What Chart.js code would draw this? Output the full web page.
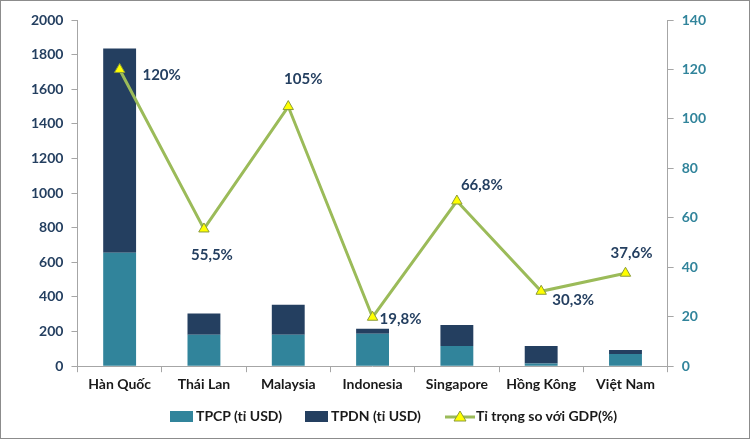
<!DOCTYPE html>
<html>
<head>
<meta charset="utf-8">
<script src="https://cdn.jsdelivr.net/npm/chart.js@4"></script>
<style>
  html, body { margin: 0; padding: 0; background: #fff; }
  .frame { position: relative; width: 748px; height: 437px; border: 1px solid #8c8c8c; background: #fff; }
  #chart { position: absolute; left: 0; top: 0; }
  .legend { position: absolute; top: 406px; left: 0; width: 748px; font: bold 14px Lato, "Open Sans", sans-serif; color: #1a1a1a; }
  .legend span.item { position: absolute; top: 0; white-space: nowrap; }
  .legend .box { display: inline-block; width: 23px; height: 11px; margin-right: 3px; vertical-align: -1px; }
</style>
</head>
<body>
<div class="frame">
  <canvas id="chart" width="748" height="437"></canvas>
  <div class="legend">
    <span class="item" style="left:169px"><span class="box" style="background:#31849B"></span>TPCP (tỉ USD)</span>
    <span class="item" style="left:304px"><span class="box" style="background:#243F60"></span>TPDN (tỉ USD)</span>
    <span class="item" style="left:444px"><canvas id="lineKey" width="30" height="14" style="vertical-align:-2px;margin-right:1px"></canvas>Tỉ trọng so với GDP(%)</span>
  </div>
</div>
<script>
const countries = ['Hàn Quốc', 'Thái Lan', 'Malaysia', 'Indonesia', 'Singapore', 'Hồng Kông', 'Việt Nam'];
const tpcp = [655, 181, 181, 187, 116, 16, 71];
const tpdn = [1181, 124, 174, 29, 122, 100, 22];
const gdpShare = [120, 55.5, 105, 19.8, 66.8, 30.3, 37.6];

// where each % label sits relative to its point
const labelOffsets = [[42, 6], [8, 26], [15, -27], [28, 2], [25, -16], [32, 9], [6, -20]];

const font = { family: 'Lato, "Open Sans", sans-serif', size: 14, weight: 'bold' };

// line key for legend
const key = document.querySelector('#lineKey').getContext('2d');
key.strokeStyle = '#9BBB59';
key.lineWidth = 3;
key.beginPath(); key.moveTo(0, 8); key.lineTo(30, 8); key.stroke();
key.fillStyle = '#FFFF00';
key.strokeStyle = '#8a9a3a';
key.lineWidth = 1;
key.beginPath(); key.moveTo(15, 2); key.lineTo(21, 12); key.lineTo(9, 12); key.closePath(); key.fill(); key.stroke();

const pctLabels = {
    id: 'pctLabels',
    afterDatasetsDraw(chart) {
        const meta = chart.getDatasetMeta(2);
        const ctx = chart.ctx;
        ctx.save();
        ctx.font = 'bold 15px Lato, "Open Sans", sans-serif';
        ctx.fillStyle = '#243F60';
        ctx.textAlign = 'center';
        ctx.textBaseline = 'middle';
        meta.data.forEach((pt, i) => {
            const txt = String(gdpShare[i]).replace('.', ',') + '%';
            ctx.fillText(txt, pt.x + labelOffsets[i][0], pt.y + labelOffsets[i][1]);
        });
        ctx.restore();
    }
};

const chart = document.querySelector('#chart').getContext('2d');

new Chart(chart, {
    type: 'bar',
    data: {
        labels: countries,
        datasets: [
            {
                label: 'TPCP (tỉ USD)',
                data: tpcp,
                backgroundColor: '#31849B',
                barPercentage: 0.39,
                categoryPercentage: 1,
                order: 2
            },
            {
                label: 'TPDN (tỉ USD)',
                data: tpdn,
                backgroundColor: '#243F60',
                barPercentage: 0.39,
                categoryPercentage: 1,
                order: 2
            },
            {
                type: 'line',
                label: 'Tỉ trọng so với GDP(%)',
                data: gdpShare,
                yAxisID: 'y1',
                borderColor: '#9BBB59',
                borderWidth: 3,
                pointStyle: 'triangle',
                pointRadius: 6,
                pointBackgroundColor: '#FFFF00',
                pointBorderColor: '#8a9a3a',
                pointBorderWidth: 1,
                tension: 0,
                order: 1
            }
        ]
    },
    options: {
        responsive: false,
        animation: false,
        layout: { padding: { left: 22, right: 35, top: 19, bottom: 41 } },
        plugins: {
            legend: { display: false },
            tooltip: { enabled: false }
        },
        scales: {
            x: {
                stacked: true,
                grid: { drawOnChartArea: false, tickLength: 6, color: '#A6A6A6' },
                border: { color: '#A6A6A6' },
                ticks: { font: font, color: '#1a1a1a', padding: 4 }
            },
            y: {
                stacked: true,
                min: 0,
                max: 2000,
                grid: { drawOnChartArea: false, tickLength: 6, color: '#A6A6A6' },
                border: { color: '#A6A6A6' },
                ticks: { stepSize: 200, font: font, color: '#243F60', padding: 8, callback: v => String(v) }
            },
            y1: {
                position: 'right',
                min: 0,
                max: 140,
                grid: { drawOnChartArea: false, tickLength: 6, color: '#A6A6A6' },
                border: { color: '#A6A6A6' },
                ticks: { stepSize: 20, font: font, color: '#31849B', padding: 8 }
            }
        }
    },
    plugins: [pctLabels]
})
</script>
</body>
</html>
